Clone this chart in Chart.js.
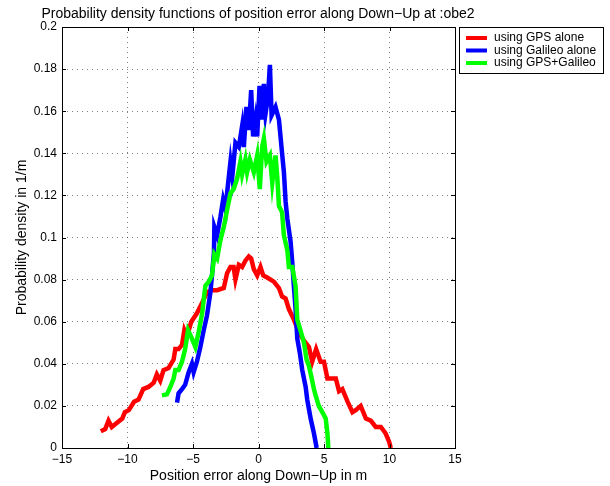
<!DOCTYPE html>
<html>
<head>
<meta charset="utf-8">
<script src="https://cdn.jsdelivr.net/npm/chart.js@4"></script>
<style>
  html, body { margin: 0; padding: 0; background: #fff; }
  #wrap { width: 610px; height: 486px; }
</style>
</head>
<body>
<div id="wrap"><canvas id="myChart" width="610" height="486"></canvas></div>
<script>
// values
var gpsX = [-12.04, -11.7, -11.45, -11.2, -10.8, -10.4, -10.2, -9.9, -9.5, -9.16, -8.8, -8.4, -8.0, -7.76, -7.5, -7.25, -6.86, -6.48, -6.35, -6.1, -5.84, -5.66, -5.46, -5.13, -4.7, -4.3, -3.93, -3.55, -3.16, -2.65, -2.4, -2.14, -1.9, -1.76, -1.5, -1.25, -1.0, -0.74, -0.56, -0.36, -0.1, 0.15, 0.36, 0.66, 1.17, 1.56, 1.8, 2.07, 2.32, 2.7, 3.09, 3.47, 3.85, 4.1, 4.4, 4.74, 5.0, 5.26, 5.5, 5.9, 6.15, 6.4, 6.8, 7.17, 7.42, 7.8, 8.2, 8.57, 8.95, 9.34, 9.7, 9.97, 10.1];
var gpsY = [0.008, 0.009, 0.013, 0.010, 0.012, 0.014, 0.017, 0.018, 0.022, 0.023, 0.028, 0.029, 0.031, 0.035, 0.032, 0.037, 0.038, 0.042, 0.047, 0.047, 0.049, 0.056, 0.053, 0.060, 0.064, 0.069, 0.074, 0.075, 0.075, 0.076, 0.083, 0.086, 0.086, 0.080, 0.087, 0.086, 0.089, 0.091, 0.090, 0.085, 0.082, 0.086, 0.082, 0.081, 0.079, 0.076, 0.072, 0.071, 0.066, 0.061, 0.055, 0.051, 0.048, 0.041, 0.047, 0.041, 0.041, 0.033, 0.033, 0.033, 0.027, 0.028, 0.022, 0.017, 0.018, 0.020, 0.014, 0.013, 0.010, 0.010, 0.007, 0.003, 0];

var galX = [-6.22, -6.1, -5.84, -5.6, -5.33, -5.08, -4.95, -4.7, -4.44, -4.18, -3.93, -3.67, -3.55, -3.4, -3.37, -3.16, -2.9, -2.7, -2.5, -2.4, -2.14, -2.0, -1.76, -1.5, -1.25, -1.12, -0.92, -0.74, -0.56, -0.41, -0.23, -0.1, 0.08, 0.23, 0.41, 0.54, 0.71, 0.87, 1.0, 1.3, 1.56, 1.8, 1.94, 2.07, 2.2, 2.45, 2.58, 2.7, 2.83, 2.96, 3.16, 3.34, 3.6, 3.72, 3.98, 4.23, 4.44];
var galY = [0.0215, 0.026, 0.028, 0.030, 0.036, 0.040, 0.036, 0.041, 0.048, 0.056, 0.063, 0.074, 0.082, 0.093, 0.105, 0.101, 0.110, 0.118, 0.113, 0.121, 0.136, 0.129, 0.145, 0.143, 0.153, 0.143, 0.162, 0.151, 0.170, 0.148, 0.156, 0.148, 0.172, 0.156, 0.173, 0.159, 0.166, 0.182, 0.158, 0.162, 0.156, 0.140, 0.131, 0.117, 0.109, 0.098, 0.088, 0.077, 0.066, 0.052, 0.045, 0.037, 0.029, 0.023, 0.014, 0.007, 0];

var bothX = [-7.37, -6.99, -6.73, -6.48, -6.35, -6.1, -5.84, -5.6, -5.38, -5.08, -4.82, -4.57, -4.3, -4.06, -3.8, -3.55, -3.37, -3.16, -2.9, -2.65, -2.4, -2.14, -1.9, -1.63, -1.38, -1.25, -1.0, -0.87, -0.66, -0.36, -0.1, 0.1, 0.28, 0.41, 0.61, 0.87, 1.05, 1.3, 1.43, 1.56, 1.8, 1.94, 2.2, 2.32, 2.58, 2.83, 2.96, 3.2, 3.47, 3.67, 3.85, 4.03, 4.23, 4.36, 4.6, 4.87, 5.13, 5.26, 5.33];
var bothY = [0.025, 0.0255, 0.029, 0.033, 0.037, 0.037, 0.041, 0.047, 0.056, 0.052, 0.048, 0.055, 0.064, 0.077, 0.079, 0.082, 0.092, 0.090, 0.099, 0.105, 0.113, 0.121, 0.123, 0.128, 0.136, 0.130, 0.137, 0.131, 0.137, 0.131, 0.139, 0.123, 0.143, 0.147, 0.136, 0.139, 0.126, 0.139, 0.129, 0.115, 0.112, 0.101, 0.094, 0.086, 0.086, 0.077, 0.061, 0.056, 0.050, 0.042, 0.039, 0.034, 0.028, 0.025, 0.020, 0.017, 0.014, 0.007, 0];

var seriesNames = ['using GPS alone', 'using Galileo alone', 'using GPS+Galileo'];
var seriesColors = ['#ff0000', '#0000ff', '#00ff00'];
var xTicks = [-15, -10, -5, 0, 5, 10, 15];
var yTicks = [0, 0.02, 0.04, 0.06, 0.08, 0.1, 0.12, 0.14, 0.16, 0.18, 0.2];

var FONT = "'Liberation Sans', Arial, sans-serif";

function pts(xs, ys) {
    return xs.map(function (x, i) { return {x: x, y: ys[i]}; });
}

// frame, inward ticks, title and boxed legend like the matlab figure
var matlabBits = {
    id: 'matlabBits',
    afterDraw: function (chart) {
        var ctx = chart.ctx;
        var a = chart.chartArea;
        var xs = chart.scales.x, ys = chart.scales.y;
        ctx.save();
        ctx.strokeStyle = '#000';
        ctx.lineWidth = 1;
        ctx.beginPath();
        xTicks.forEach(function (t) {
            var px = Math.round(xs.getPixelForValue(t)) + 0.5;
            ctx.moveTo(px, a.bottom); ctx.lineTo(px, a.bottom - 4);
            ctx.moveTo(px, a.top); ctx.lineTo(px, a.top + 4);
        });
        yTicks.forEach(function (t) {
            var py = Math.round(ys.getPixelForValue(t)) + 0.5;
            ctx.moveTo(a.left, py); ctx.lineTo(a.left + 4, py);
            ctx.moveTo(a.right, py); ctx.lineTo(a.right - 4, py);
        });
        ctx.stroke();
        ctx.strokeRect(Math.round(a.left) + 0.5, Math.round(a.top) + 0.5,
            Math.round(a.right - a.left), Math.round(a.bottom - a.top));

        // title
        ctx.fillStyle = '#000';
        ctx.font = '14px ' + FONT;
        ctx.textAlign = 'center';
        ctx.textBaseline = 'middle';
        ctx.fillText('Probability density functions of position error along Down\u2212Up at :obe2', 258, 14);

        // legend
        ctx.fillStyle = '#fff';
        ctx.fillRect(459, 27, 144, 46);
        ctx.strokeRect(459.5, 27.5, 144, 46);
        ctx.font = '12px ' + FONT;
        ctx.textAlign = 'left';
        chart.data.datasets.forEach(function (ds, i) {
            var y = 38 + i * 12.5;
            ctx.strokeStyle = ds.borderColor;
            ctx.lineWidth = 4;
            ctx.beginPath();
            ctx.moveTo(466, y); ctx.lineTo(487, y);
            ctx.stroke();
            ctx.fillStyle = '#000';
            ctx.fillText(ds.label, 494, y);
        });
        ctx.restore();
    }
};

var datasets = [pts(gpsX, gpsY), pts(galX, galY), pts(bothX, bothY)].map(function (d, i) {
    return {
        label: seriesNames[i],
        data: d,
        borderColor: seriesColors[i],
        backgroundColor: seriesColors[i],
        borderWidth: 4.5,
        pointRadius: 0,
        tension: 0,
        order: 3 - i
    };
});

var myChart = new Chart(document.getElementById('myChart'), {
    type: 'line',
    data: { datasets: datasets },
    options: {
        responsive: false,
        animation: false,
        layout: { padding: { left: 0, right: 155, top: 27, bottom: 0 } },
        plugins: {
            legend: { display: false },
            tooltip: { enabled: false }
        },
        scales: {
            x: {
                type: 'linear',
                min: -15, max: 15,
                afterFit: function (s) { s.height = 38; },
                afterBuildTicks: function (s) { s.ticks = xTicks.map(function (v) { return {value: v}; }); },
                ticks: {
                    color: '#000', padding: 4, maxRotation: 0,
                    font: { family: FONT, size: 12 },
                    callback: function (v) { return String(v).replace('-', '\u2212'); }
                },
                grid: { color: 'rgba(0,0,0,0.5)', drawTicks: false },
                border: { display: false, dash: [1, 4] },
                title: {
                    display: true, text: 'Position error along Down\u2212Up in m', color: '#000',
                    font: { family: FONT, size: 14 }, padding: { top: 0, bottom: 1 }
                }
            },
            y: {
                min: 0, max: 0.2,
                afterFit: function (s) { s.width = 62; },
                afterBuildTicks: function (s) { s.ticks = yTicks.map(function (v) { return {value: v}; }); },
                ticks: {
                    color: '#000', padding: 5,
                    font: { family: FONT, size: 12 },
                    callback: function (v) { return String(+v.toFixed(2)); }
                },
                grid: { color: 'rgba(0,0,0,0.5)', drawTicks: false },
                border: { display: false, dash: [1, 4] },
                title: {
                    display: true, text: 'Probability density in 1/m', color: '#000',
                    font: { family: FONT, size: 14 }, padding: { top: 14, bottom: 0 }
                }
            }
        }
    },
    plugins: [matlabBits]
});
</script>
</body>
</html>
